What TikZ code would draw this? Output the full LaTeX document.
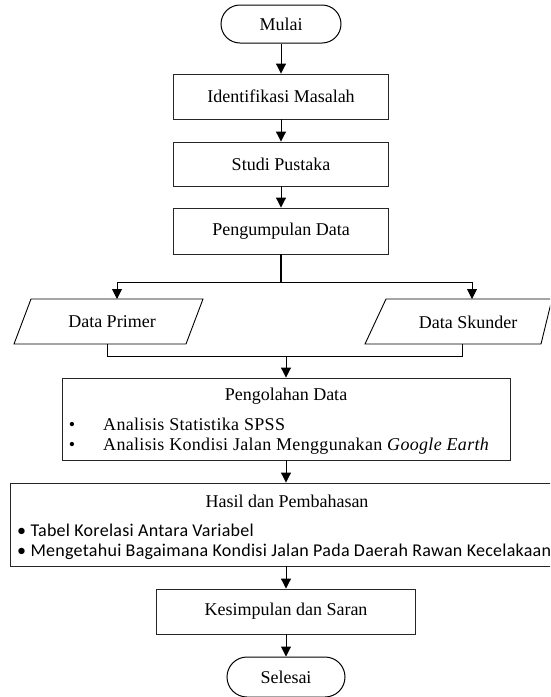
\documentclass[tikz,border=0pt]{standalone}
\usepackage{fontspec}
\setmainfont{Liberation Serif}
\newfontfamily\calib{Carlito}
\usetikzlibrary{arrows.meta}
\begin{document}
\begin{tikzpicture}[x=1pt,y=-1pt]
\tikzset{
  txt/.style={font=\fontsize{18}{20}\selectfont, inner sep=0pt},
  procbox/.style={draw=black!85, line width=0.9pt, rectangle, inner sep=0pt, font=\fontsize{18}{20}\selectfont},
  term/.style={draw=black, line width=1pt, rectangle, rounded corners=19pt, inner sep=0pt, font=\fontsize{18}{20}\selectfont},
  ioshape/.style={draw=black, line width=0.9pt},
  arr/.style={-{Triangle[width=10pt,length=10pt]}, line width=1pt},
  conn/.style={line width=1pt},
  thickconn/.style={line width=2pt},
}
\clip (0,0) rectangle (550,697);
\fill[white] (0,0) rectangle (550,697);

% top chain
\node[term, minimum width=120pt, minimum height=38pt] (mulai) at (281,24) {Mulai};
\node[procbox, minimum width=215pt, minimum height=45pt] (ident) at (281,96.5) {Identifikasi Masalah};
\node[procbox, minimum width=215pt, minimum height=44pt] (studi) at (281,164) {Studi Pustaka};
\node[procbox, minimum width=215pt, minimum height=46pt] (kumpul) at (281,231) {Pengumpulan Data};
\draw[arr] (mulai) -- (ident);
\draw[arr] (ident) -- (studi);
\draw[arr] (studi) -- (kumpul);

% split
\coordinate (split) at (281,282);
\coordinate (pin) at (117,282);
\coordinate (sin) at (472,282);
\draw[thickconn] (kumpul.south) -- (split);
\draw[conn] (pin) -- (sin);

% data primer
\coordinate (ptop) at (117,299);
\coordinate (pbot) at (107,344);
\draw[ioshape] (31,299) -- (203,299) -- (186,344) -- (14,344) -- cycle;
\node[txt] (primer) at (112,322) {Data Primer};
% data skunder
\coordinate (stop) at (472,299);
\coordinate (sbot) at (462,344);
\draw[ioshape] (386,299) -- (552,299) -- (541,344) -- (365,344) -- cycle;
\node[txt] (skunder) at (468,322) {Data Skunder};
\draw[arr] (pin) -- (ptop);
\draw[arr] (sin) -- (stop);

% merge
\coordinate (pm) at (107,356);
\coordinate (sm) at (462,356);
\coordinate (merge) at (286,356);
\draw[conn] (pbot) -- (pm) -- (sm) -- (sbot);

% pengolahan
\node[procbox, minimum width=448pt, minimum height=82pt] (olah) at (286,419) {};
\node[txt, anchor=base] (olaht) at (286,400) {Pengolahan Data};
\node[txt, anchor=base] (ob1) at (72,430) {\textbullet};
\node[txt, anchor=base west] (ol1) at (103,430) {\addfontfeature{LetterSpace=1.8}Analisis Statistika SPSS};
\node[txt, anchor=base] (ob2) at (72,450) {\textbullet};
\node[txt, anchor=base west] (ol2) at (103,450) {\addfontfeature{LetterSpace=1.8}Analisis Kondisi Jalan Menggunakan \textit{Google Earth}};
\draw[arr] (merge) -- (olah.north);

% hasil
\node[procbox, minimum width=552pt, minimum height=83pt] (hasil) at (286,524.5) {};
\node[txt, anchor=base] (hasilt) at (287,507) {Hasil dan Pembahasan};
\node[txt, anchor=base west] (hl1) at (17,536) {\calib\addfontfeature{LetterSpace=1.5}\textbullet\ Tabel Korelasi Antara Variabel};
\node[txt, anchor=base west] (hl2) at (17,556) {\calib\addfontfeature{LetterSpace=1.5}\textbullet\ Mengetahui Bagaimana Kondisi Jalan Pada Daerah Rawan Kecelakaan};
\draw[arr] (olah.south) -- (hasil.north);

% kesimpulan
\node[procbox, minimum width=259pt, minimum height=45pt] (simpul) at (286,611.5) {Kesimpulan dan Saran};
\draw[arr] (hasil.south) -- (simpul.north);

% selesai
\node[term, minimum width=118pt, minimum height=40pt, rounded corners=20pt] (selesai) at (286,677) {Selesai};
\draw[arr] (simpul) -- (selesai);
\end{tikzpicture}
\end{document}
